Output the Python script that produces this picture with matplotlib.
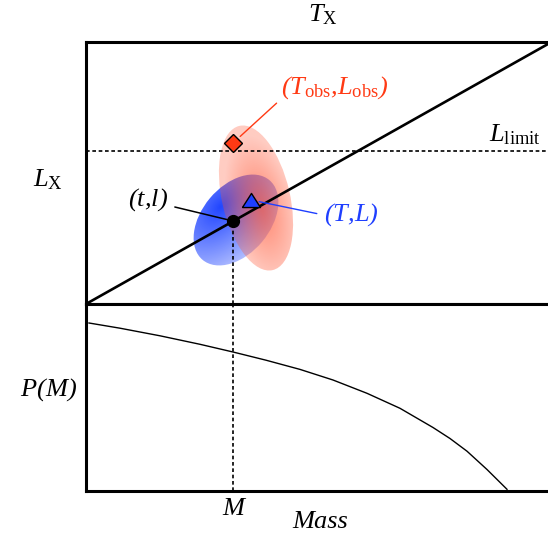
import numpy as np
import matplotlib
matplotlib.use("Agg")
import matplotlib.pyplot as plt
from matplotlib.patches import Ellipse

plt.rcParams['mathtext.fontset'] = 'custom'
plt.rcParams['mathtext.rm'] = 'Liberation Serif:italic'
plt.rcParams['mathtext.it'] = 'Liberation Serif:italic'
plt.rcParams['mathtext.sf'] = 'Liberation Serif'
plt.rcParams['font.family'] = ['Liberation Serif', 'DejaVu Serif']

# ---------------- data (schematic units) ----------------
relation_T = [0, 462]          # scaling relation endpoints (T axis)
relation_L = [0, 260]          # scaling relation endpoints (L axis)
L_limit = 153                  # flux / luminosity limit
point_true = (147, 83)         # (t,l)
point_model = (165, 104)       # (T,L)
point_obs = (147, 161)         # (Tobs,Lobs)

# ellipses: centre x, centre y, width, height, angle
ell_obs = (170, 106, 68, 148, 13)
ell_model = (150, 84, 104, 68, 50)

# mass function curve
mass_vals = [3, 34, 74, 114, 147, 180, 214, 247, 281, 314, 347, 364, 381,
             401, 421]
pm_vals = [168, 162.8, 155.2, 146.7, 139, 130.8, 121.6, 111, 97.7, 82.7,
           63.5, 52.5, 39.8, 21.5, 1.7]
M_mark = 147

RED = '#ff3a14'
BLUE = '#1f3fff'
FS = 19

W, H = 548, 536
fig = plt.figure(figsize=(W / 100, H / 100), dpi=100)


def rect(l, t, r, b):
    return [l / W, 1 - b / H, (r - l) / W, (b - t) / H]


ax1 = fig.add_axes(rect(86, 42, 550, 304))
ax2 = fig.add_axes(rect(86, 304, 550, 491))
for ax in (ax1, ax2):
    ax.set_xticks([])
    ax.set_yticks([])
    for s in ax.spines.values():
        s.set_linewidth(2.2)
ax1.set_xlim(0, 464)
ax1.set_ylim(0, 262)
ax2.set_xlim(0, 464)
ax2.set_ylim(0, 187)


def gradient_ellipse(ax, ell, rgb, amax, amin, gc, k, p, z):
    cx, cy, w, h, ang = ell
    a, b = w / 2, h / 2
    R = max(a, b) + 2
    xs = np.linspace(cx - R, cx + R, 300)
    ys = np.linspace(cy - R, cy + R, 300)
    X, Y = np.meshgrid(xs, ys)
    t = np.deg2rad(ang)
    u = (X - cx) * np.cos(t) + (Y - cy) * np.sin(t)
    v = -(X - cx) * np.sin(t) + (Y - cy) * np.cos(t)
    r = np.sqrt(((u - gc[0] * a) / a) ** 2 + ((v - gc[1] * b) / b) ** 2) / k
    alpha = amin + (amax - amin) * np.clip(1 - r, 0, 1) ** p
    img = np.zeros(X.shape + (4,))
    img[..., 0], img[..., 1], img[..., 2] = rgb
    img[..., 3] = alpha
    patch = Ellipse((cx, cy), w, h, angle=ang, facecolor='none',
                    edgecolor='none', transform=ax.transData)
    ax.add_patch(patch)
    im = ax.imshow(img, extent=(cx - R, cx + R, cy - R, cy + R),
                   origin='lower', interpolation='bilinear', zorder=z,
                   aspect='auto')
    im.set_clip_path(patch)


gradient_ellipse(ax1, ell_model, (0.1, 0.25, 1.0), 0.97, 0.25,
                 (0.0, 0.6), 1.8, 1.0, 1)
gradient_ellipse(ax1, ell_obs, (1.0, 0.33, 0.2), 0.72, 0.3,
                 (0.1, -0.15), 1.0, 1.0, 2)

# relation line and limits
ax1.plot(relation_T, relation_L, color='black', lw=1.9, zorder=4,
         solid_capstyle='butt')
ax1.axhline(L_limit, color='black', lw=1.2, ls=(0, (2.2, 1.6)), zorder=3)
ax1.plot([M_mark, M_mark], [0, point_true[1]], color='black', lw=1.2,
         ls=(0, (2.2, 1.6)), zorder=3)
ax2.axvline(M_mark, color='black', lw=1.2, ls=(0, (2.2, 1.6)), zorder=3)

# points
ax1.plot(*point_true, marker='o', ms=8.5, color='black', zorder=6)
ax1.plot(*point_model, marker=[(-1, -0.78), (1, -0.78), (0, 0.78), (-1, -0.78)],
         ms=13, mfc=BLUE, mec='black', mew=1.0, zorder=6, ls='none')
ax1.plot(*point_obs, marker='D', ms=9.5, mfc=RED, mec='black', mew=1.0,
         zorder=6)

# annotations
ax1.annotate(r'$(t{,}l)$', xy=point_true, xytext=(62, 104),
             ha='center', va='center', fontsize=FS, color='black',
             arrowprops=dict(arrowstyle='-', color='black', lw=1.1,
                             shrinkA=3, shrinkB=0, relpos=(1, 0.3)),
             zorder=5)
ax1.annotate(r'$(T{,}L)$', xy=point_model, xytext=(265, 89),
             ha='center', va='center', fontsize=FS, color=BLUE,
             arrowprops=dict(arrowstyle='-', color=BLUE, lw=1.0,
                             shrinkA=3, shrinkB=6, relpos=(0, 0.5)),
             zorder=5)
ax1.annotate(r'$(T_{\mathsf{obs}}{,}L_{\mathsf{obs}})$',
             xy=point_obs, xytext=(249, 216),
             ha='center', va='center', fontsize=FS, color=RED,
             arrowprops=dict(arrowstyle='-', color=RED, lw=1.0,
                             shrinkA=2, shrinkB=7, relpos=(0.0, 0.1)),
             zorder=5)

# mass function
ax2.plot(mass_vals, pm_vals, color='black', lw=1.0)

# labels
fig.text(323 / W, 1 - 15 / H, r'$T_{\mathsf{X}}$', ha='center', va='center',
         fontsize=FS)
fig.text(48 / W, 1 - 180 / H, r'$L_{\mathsf{X}}$', ha='center', va='center',
         fontsize=FS)
fig.text(515 / W, 1 - 135 / H, r'$L_{\mathsf{limit}}$', ha='center',
         va='center', fontsize=FS)
fig.text(48 / W, 1 - 390 / H, r'$P(M)$', ha='center', va='center',
         fontsize=FS)
fig.text(233 / W, 1 - 509 / H, 'M', ha='center', va='center', fontsize=FS,
         style='italic')
fig.text(320 / W, 1 - 522 / H, 'Mass', ha='center', va='center', fontsize=FS,
         style='italic')

fig.savefig('out.png', dpi=100)
